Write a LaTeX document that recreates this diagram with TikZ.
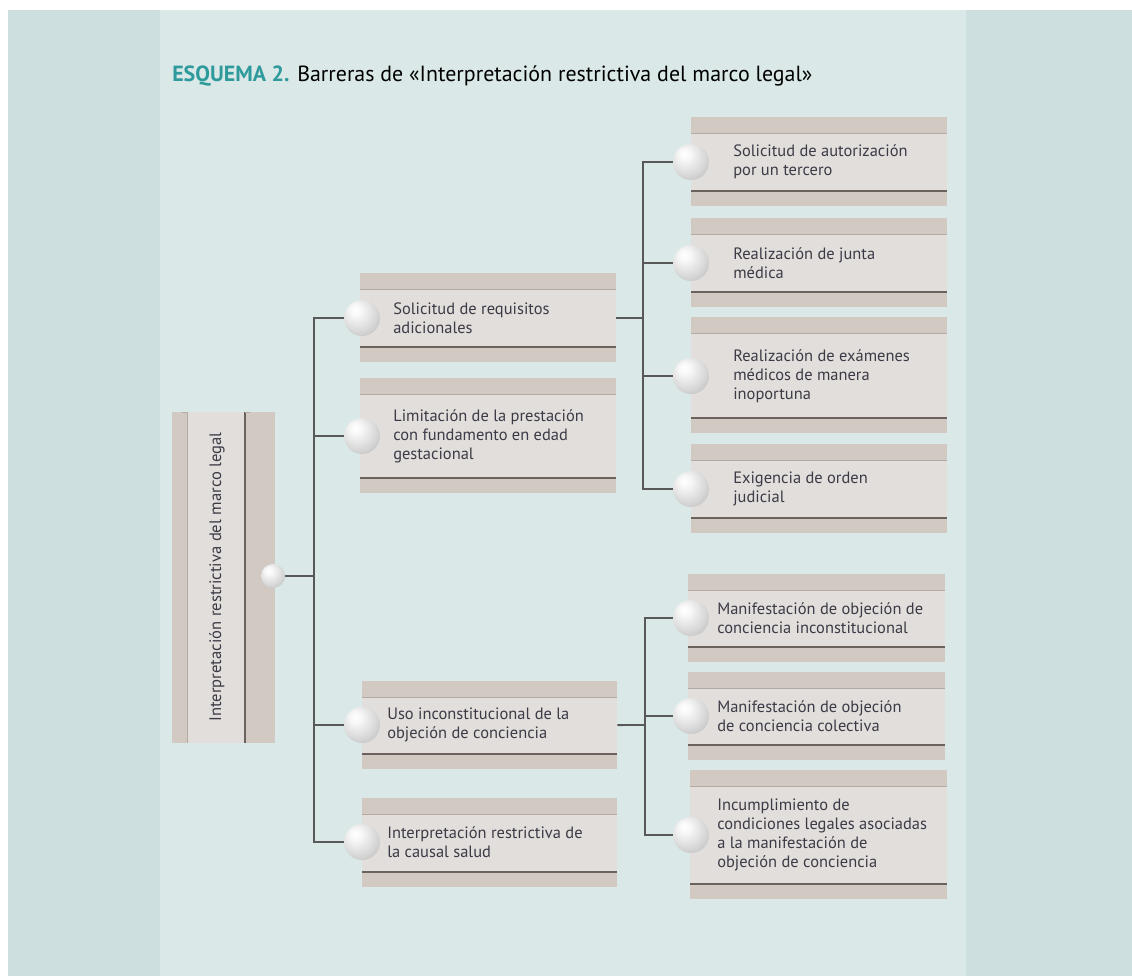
\documentclass[tikz,border=0pt]{standalone}
\usepackage{fontspec}
\setmainfont{PT Sans}
\usetikzlibrary{fit}

\definecolor{rand}{HTML}{CDE0DF}
\definecolor{grund}{HTML}{DAE8E8}
\definecolor{bandfarbe}{HTML}{D2C9C3}
\definecolor{feldfarbe}{HTML}{E2DEDB}
\definecolor{dunkelgrau}{HTML}{6B625D}
\definecolor{hellgrau}{HTML}{B3AAA4}
\definecolor{liniengrau}{HTML}{585858}
\definecolor{schrift}{HTML}{3C3A46}
\definecolor{titelgruen}{HTML}{2E9A9C}

% Kugel mit Glanzpunkt oben links
\pgfdeclareradialshading{kugel}{\pgfqpoint{-10bp}{12bp}}{%
  color(0bp)=(white); color(8bp)=(black!3); color(25bp)=(black!15);
  color(40bp)=(black!27); color(52bp)=(black!40); color(66bp)=(black!50)}

% Kasten: Name, x links, x rechts, oben, unten
\newcommand{\kasten}[5]{%
  \fill[band] (#2,#4) rectangle (#3,#5);
  \node[feld, fit={(#2,#4+16) (#3,#5-15)}] (#1) {};
  \draw[duenn] (#2,#4+16) -- (#3,#4+16);
  \draw[dunkel] (#2,#5-15) -- (#3,#5-15);
}

\begin{document}
\begin{tikzpicture}[x=0.025cm,y=-0.025cm,
  band/.style={fill=bandfarbe},
  feld/.style={rectangle, fill=feldfarbe, inner sep=0pt},
  duenn/.style={hellgrau, line width=0.6pt},
  dunkel/.style={dunkelgrau, line width=1.4pt},
  linie/.style={liniengrau, line width=1.3pt},
  kugel/.style={circle, inner sep=0pt, minimum size=0.9cm, shading=kugel},
  beschr/.style={anchor=west, align=left, inner sep=0pt, text=schrift,
    font=\fontsize{11.7}{13.5}\selectfont}]

\useasboundingbox (0,0) rectangle (1132,976);

% Hintergrund
\fill[white] (0,0) rectangle (1132,976);
\fill[rand] (8,10) rectangle (1132,976);
\fill[grund] (160,10) rectangle (966,976);

% Titel
\node[anchor=base west, inner sep=0pt, font=\fontsize{15.6}{18}\selectfont] (titel) at (172,81)
  {\textcolor{titelgruen}{\textbf{ESQUEMA 2.}} Barreras de «Interpretación restrictiva del marco legal»};

% Hauptkasten links (senkrecht)
\fill[band] (172,412) rectangle (275,743);
\node[feld, fit={(187,412) (245,743)}] (haupt) {};
\draw[duenn] (187,412) -- (187,743);
\draw[dunkel] (245,412) -- (245,743);
\draw[hellgrau, line width=0.8pt] (182,412.5) -- (187,412.5) (245,412.5) -- (250,412.5);
\node[beschr, anchor=center, rotate=90, font=\fontsize{11.8}{13}\selectfont] (haupt-t) at (217,577)
  {Interpretación restrictiva del marco legal};
\node[kugel, minimum size=0.6cm] (hk) at (273,576) {};

% mittlere Kaesten
\kasten{m1}{360}{616}{273}{362}
\kasten{m2}{360}{616}{378}{493}
\kasten{m3}{362}{617}{681}{769}
\kasten{m4}{362}{617}{798}{887}

\node[beschr] (m1t) at (393,318) {Solicitud de requisitos\\adicionales};
\node[beschr] (m2t) at (393,436) {Limitación de la prestación\\con fundamento en edad\\gestacional};
\node[beschr] (m3t) at (387,725) {Uso inconstitucional de la\\objeción de conciencia};
\node[beschr] (m4t) at (387,842) {Interpretación restrictiva de\\la causal salud};

% rechte Kaesten oben
\kasten{r1}{691}{947}{117}{206}
\kasten{r2}{691}{947}{218}{307}
\kasten{r3}{691}{947}{317}{433}
\kasten{r4}{691}{947}{444}{533}

\node[beschr] (r1t) at (733,162) {Solicitud de autorización\\por un tercero};
\node[beschr] (r2t) at (733,263) {Realización de junta\\médica};
\node[beschr] (r3t) at (733,376) {Realización de exámenes\\médicos de manera\\inoportuna};
\node[beschr] (r4t) at (733,489) {Exigencia de orden\\judicial};

% rechte Kaesten unten
\kasten{r5}{688}{945}{574}{662}
\kasten{r6}{688}{945}{672}{760}
\kasten{r7}{690}{947}{770}{899}

\node[beschr] (r5t) at (717,618) {Manifestación de objeción de\\conciencia inconstitucional};
\node[beschr] (r6t) at (717,716) {Manifestación de objeción\\de conciencia colectiva};
\node[beschr] (r7t) at (717,835) {Incumplimiento de\\condiciones legales asociadas\\a la manifestación de\\objeción de conciencia};

% Kugeln
\node[kugel] (m1k) at (362,318) {};
\node[kugel] (m2k) at (362,436) {};
\node[kugel] (m3k) at (362,725) {};
\node[kugel] (m4k) at (362,842) {};
\node[kugel] (r1k) at (691,162) {};
\node[kugel] (r2k) at (691,263) {};
\node[kugel] (r3k) at (691,376) {};
\node[kugel] (r4k) at (691,489) {};
\node[kugel] (r5k) at (691,618) {};
\node[kugel] (r6k) at (691,716) {};
\node[kugel] (r7k) at (691,835) {};

% Verbindungen
\coordinate (s1) at (314,576);
\coordinate (s2) at (643,318);
\coordinate (s3) at (645,725);

\draw[linie] (hk) -- (s1);
\foreach \k in {m1k,m2k,m3k,m4k}
  \draw[linie] (s1) |- (\k);

\draw[linie] (m1) -- (s2);
\foreach \k in {r1k,r2k,r3k,r4k}
  \draw[linie] (s2) |- (\k);

\draw[linie] (m3) -- (s3);
\foreach \k in {r5k,r6k,r7k}
  \draw[linie] (s3) |- (\k);

\end{tikzpicture}
\end{document}
